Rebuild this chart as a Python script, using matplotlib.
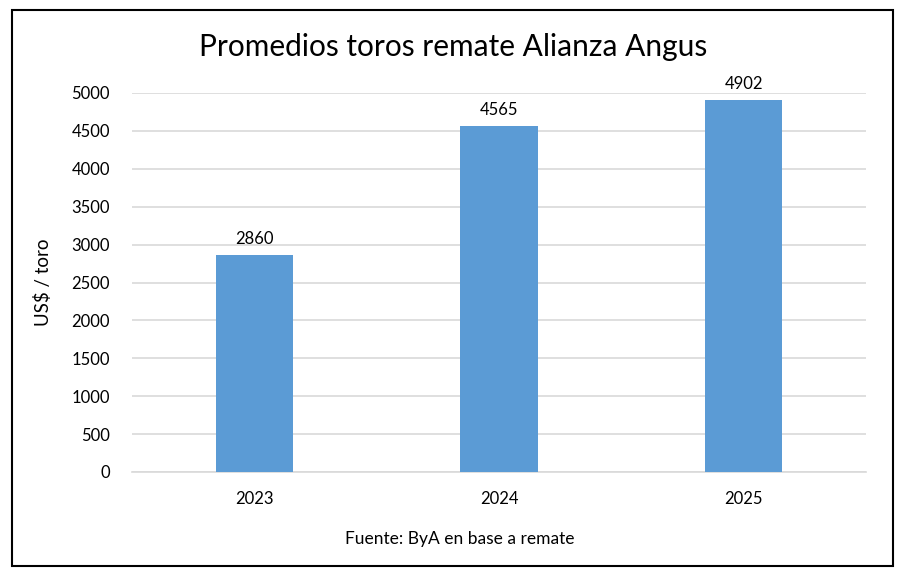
import matplotlib

matplotlib.use("Agg")
import matplotlib.pyplot as plt  # noqa: E402
from matplotlib.patches import Rectangle  # noqa: E402

years = ["2023", "2024", "2025"]
prices = [2860, 4565, 4902]
yticks = list(range(0, 5001, 500))

plt.rcParams["font.family"] = ["Lato", "DejaVu Sans"]

W, H = 903, 577
fig = plt.figure(figsize=(W / 100, H / 100), dpi=100)
ax = fig.add_axes([132 / W, 1 - 472 / H, (866 - 132) / W, (472 - 93) / H])

x = range(len(years))
bars = ax.bar(x, prices, width=0.315, color="#5B9BD5", zorder=3)
for b, v in zip(bars, prices):
    ax.annotate(str(v), (b.get_x() + b.get_width() / 2, v), textcoords="offset points",
                xytext=(0, 6), ha="center", va="bottom", fontsize=12, color="black")

ax.set_xlim(-0.5, 2.5)
ax.set_ylim(0, 5000)
ax.set_xticks(list(x))
ax.set_xticklabels(years)
ax.set_yticks(yticks)
ax.tick_params(axis="both", length=0, labelsize=12, colors="black")
ax.tick_params(axis="x", pad=14)
ax.tick_params(axis="y", pad=16)
ax.grid(axis="y", color="#D9D9D9", lw=1.2, zorder=0)
for s in ["top", "right", "left"]:
    ax.spines[s].set_visible(False)
ax.spines["bottom"].set_color("#D9D9D9")
ax.spines["bottom"].set_linewidth(1.2)
ax.set_ylabel("US$ / toro", fontsize=13.5, labelpad=14)

fig.text(453 / W, 1 - 47 / H, "Promedios toros remate Alianza Angus", ha="center", va="center",
         fontsize=21.5)
fig.text(460 / W, 1 - 539 / H, "Fuente: ByA en base a remate", ha="center", va="center",
         fontsize=12.5)

fig.patches.append(Rectangle((12 / W, 1 - 566 / H), (893 - 12) / W, (566 - 10) / H,
                             transform=fig.transFigure, fill=False, edgecolor="black", lw=1.5))

fig.savefig("out.png", dpi=100)
